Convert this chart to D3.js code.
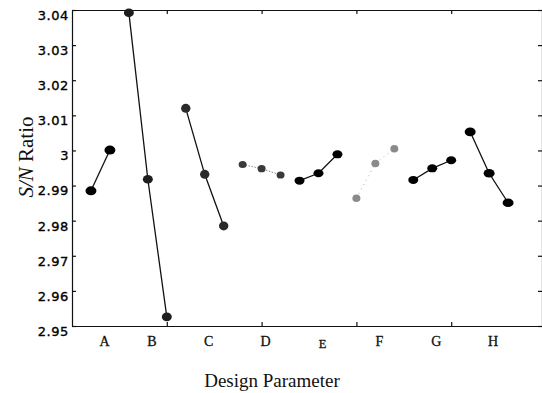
<!DOCTYPE html>
<html lang="en">
<head>
  <meta charset="UTF-8">
  <title>S/N Ratio by Design Parameter</title>
  <script src="https://d3js.org/d3.v7.min.js"></script>
  <style>
    body { margin: 0; background: #fff; }
    .eixo path, .eixo line { stroke: #111; stroke-width: 1.2; }
    .eixo-y text { font-family: "DejaVu Sans", sans-serif; font-size: 13px; letter-spacing: 0.6px; fill: #000; stroke: #000; stroke-width: 0.35px; }
    .rotulo { font-family: "Liberation Serif", "Times New Roman", serif; fill: #111; }
    .fator { stroke: #111; stroke-width: 0.3px; }
  </style>
</head>
<body>
<svg id="grafico"></svg>

<script>
  // Dados do gráfico
  const factors = ["A", "B", "C", "D", "E", "F", "G", "H"];
  const snA = [2.9885, 3.0001];
  const snB = [3.0392, 2.9918, 2.9526];
  const snC = [3.0120, 2.9932, 2.9785];
  const snD = [2.9960, 2.9948, 2.9930];
  const snE = [2.9914, 2.9935, 2.9989];
  const snF = [2.9864, 2.9963, 3.0005];
  const snG = [2.9916, 2.9949, 2.9972];
  const snH = [3.0053, 2.9935, 2.9851];
  const yTicks = [2.95, 2.96, 2.97, 2.98, 2.99, 3, 3.01, 3.02, 3.03, 3.04];
  const xTicks = [5, 10, 15, 20];

  // Estilo de cada fator (marcador e linha)
  const estilo = {
    A: { fill: "#000", line: "#111", dash: null, rx: 5.5, ry: 4.5 },
    B: { fill: "#1e1e1e", line: "#111", dash: null, rx: 5, ry: 4.3 },
    C: { fill: "#2a2a2a", line: "#111", dash: null, rx: 4.7, ry: 4.5 },
    D: { fill: "#3a3a3a", line: "#888", dash: "1.5,1.5", rx: 4, ry: 3.6 },
    E: { fill: "#000", line: "#111", dash: null, rx: 5, ry: 4 },
    F: { fill: "#8a8a8a", line: "#aaa", dash: "1,4", rx: 4, ry: 3.8 },
    G: { fill: "#000", line: "#111", dash: null, rx: 5, ry: 4 },
    H: { fill: "#000", line: "#111", dash: null, rx: 5.5, ry: 4.3 }
  };

  const largura = 542, altura = 393;
  const svg = d3.select("#grafico").attr("width", largura).attr("height", altura);

  // Montar séries com índice contínuo
  const valores = [snA, snB, snC, snD, snE, snF, snG, snH];
  let idx = 1;
  const series = factors.map((f, i) => {
    const pts = valores[i].map(v => ({ i: idx++, v: v }));
    return { factor: f, pts: pts };
  });

  const x = d3.scaleLinear().domain([0, 25]).range([72, 546]);
  const y = d3.scaleLinear().domain([2.95, 3.04]).range([326, 10]);

  // Eixos (ticks para dentro)
  svg.append("g").attr("class", "eixo eixo-y")
    .attr("transform", `translate(${x(0)},0)`)
    .call(d3.axisLeft(y).tickValues(yTicks).tickFormat(d3.format("~g"))
      .tickSizeInner(-4).tickSizeOuter(0).tickPadding(3))
    .selectAll("text").attr("dy", "0.72em");

  svg.append("g").attr("class", "eixo")
    .attr("transform", `translate(0,${y(2.95)})`)
    .call(d3.axisBottom(x).tickValues(xTicks).tickFormat("").tickSizeInner(-4).tickSizeOuter(0));

  svg.append("g").attr("class", "eixo")
    .attr("transform", `translate(0,${y(3.04)})`)
    .call(d3.axisTop(x).tickValues(xTicks).tickFormat("").tickSizeInner(-4).tickSizeOuter(0));

  svg.append("g").attr("class", "eixo")
    .attr("transform", `translate(${x(25) - 4},0)`)
    .call(d3.axisRight(y).tickValues(yTicks).tickFormat("").tickSizeInner(-4).tickSizeOuter(0));

  // Linhas e marcadores
  const linha = d3.line().x(d => x(d.i)).y(d => y(d.v));

  series.forEach(s => {
    const e = estilo[s.factor];
    svg.append("path")
      .datum(s.pts)
      .attr("d", linha)
      .attr("fill", "none")
      .attr("stroke", e.line)
      .attr("stroke-width", e.dash ? 1 : 1.3)
      .attr("stroke-dasharray", e.dash);

    svg.selectAll(".m-" + s.factor)
      .data(s.pts)
      .enter().append("ellipse")
      .attr("class", "m-" + s.factor)
      .attr("cx", d => x(d.i))
      .attr("cy", d => y(d.v))
      .attr("rx", e.rx)
      .attr("ry", e.ry)
      .attr("fill", e.fill);
  });

  // Rótulos dos fatores
  svg.selectAll(".fator")
    .data(series)
    .enter().append("text")
    .attr("class", "rotulo fator")
    .attr("x", d => x(d3.mean(d.pts, p => p.i)) + 4)
    .attr("y", d => d.factor === "E" ? 348 : 346)
    .attr("text-anchor", "middle")
    .attr("font-size", d => d.factor === "E" ? 12.5 : 14)
    .text(d => d.factor);

  // Títulos dos eixos
  svg.append("text")
    .attr("class", "rotulo")
    .attr("x", 272).attr("y", 387)
    .attr("text-anchor", "middle")
    .attr("font-size", 19)
    .text("Design Parameter");

  const ty = svg.append("text")
    .attr("class", "rotulo")
    .attr("transform", "translate(33,157) rotate(-90)")
    .attr("text-anchor", "middle")
    .attr("font-size", 21);
  ty.append("tspan").attr("font-style", "italic").text("S/N");
  ty.append("tspan").text(" Ratio");
</script>
</body>
</html>
